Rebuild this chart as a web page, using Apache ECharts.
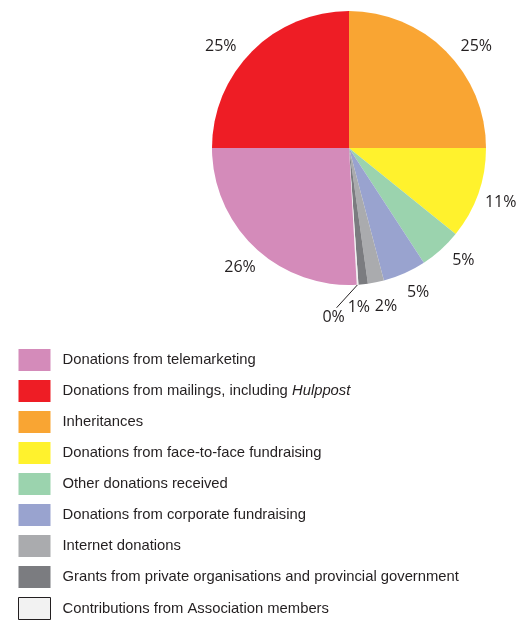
<!DOCTYPE html>
<html>
<head>
<meta charset="utf-8">
<script src="https://cdn.jsdelivr.net/npm/echarts@6/dist/echarts.min.js"></script>
<style>html,body{margin:0;padding:0;background:#fff}#c{width:518px;height:623px}</style>
</head>
<body>
<div id="c"></div>
<script>
// Data (pie order, clockwise from 12 o'clock)
const categories = [
  'Inheritances',
  'Donations from face-to-face fundraising',
  'Other donations received',
  'Donations from corporate fundraising',
  'Internet donations',
  'Grants from private organisations and provincial government',
  'Contributions from Association members',
  'Donations from telemarketing',
  'Donations from mailings, including Hulppost'
];
const values = [25.0, 10.8, 5.0, 5.1, 1.9, 1.1, 0.2, 25.9, 25.0];
// Legend order (top to bottom)
const legendOrder = [7, 8, 0, 1, 2, 3, 4, 5, 6];

// Styles
const colors = ['#f9a533', '#fff22d', '#9bd3ae', '#99a3cf', '#aaabae', '#7b7c80', '#f2f2f2', '#d48bba', '#ee1d25'];
const labelOffsets = [[12, 14], [-2, 0], [5, -8], [3, -5], [5, -1], [-7, -3], [0, 0], [3, 1], [-13, 14]];
const ZERO_IDX = 6;

const chart = echarts.init(document.getElementById('c'), null, {renderer: 'canvas'});
const center = [349, 148];
const R = 137;
const textColor = '#231f20';
const legendFont = 14.8;
const labelFont = 16;

const mainData = categories.map((n, i) => ({
  name: n,
  value: values[i],
  itemStyle: {color: colors[i]},
  label: i === ZERO_IDX ? {show: true} : {show: false},
  labelLine: i === ZERO_IDX ? {show: true} : {show: false}
}));
const ringData = categories.map((n, i) => ({
  name: n,
  value: values[i],
  itemStyle: {color: 'rgba(0,0,0,0)'},
  label: {show: i !== ZERO_IDX, offset: labelOffsets[i]}
}));

const fmt = p => Math.round(p.value) + '%';

chart.setOption({
  animation: false,
  legend: {
    orient: 'vertical',
    left: 18,
    top: 349,
    height: 280,
    padding: 0,
    itemWidth: 32,
    itemHeight: 22,
    itemGap: 9,
    icon: 'rect',
    selectedMode: false,
    data: legendOrder.map(i => ({
      name: categories[i],
      itemStyle: i === ZERO_IDX ? {color: colors[i], borderColor: textColor, borderWidth: 1} : {color: colors[i], borderWidth: 0}
    })),
    formatter: name => {
      if (name.indexOf('Hulppost') >= 0) {
        return '{n|Donations from mailings, including }{i|Hulppost}';
      }
      return '{n|' + name + '}';
    },
    textStyle: {
      color: textColor,
      fontFamily: 'Liberation Sans, Arial, sans-serif',
      fontSize: legendFont,
      padding: [0, 0, 0, 7],
      rich: {
        n: {color: textColor, fontFamily: 'Liberation Sans, Arial, sans-serif', fontSize: legendFont},
        i: {color: textColor, fontFamily: 'Liberation Sans, Arial, sans-serif', fontSize: legendFont, fontStyle: 'italic'}
      }
    }
  },
  series: [
    {
      type: 'pie',
      center: center,
      radius: [0, R],
      startAngle: 90,
      clockwise: true,
      silent: true,
      avoidLabelOverlap: false,
      emphasis: {disabled: true},
      label: {
        position: 'outside',
        formatter: fmt,
        color: textColor,
        fontFamily: 'Open Sans, Liberation Sans, sans-serif',
        fontSize: labelFont
      },
      labelLine: {length: 30, length2: 0, lineStyle: {color: textColor, width: 1}},
      labelLayout: function (params) {
        if (params.dataIndex !== ZERO_IDX) return;
        const pts = params.labelLinePoints;
        if (!pts || !pts[0]) return;
        const p0 = pts[0];
        return {
          x: p0[0] - 24,
          y: p0[1] + 33,
          align: 'center',
          verticalAlign: 'middle',
          labelLinePoints: [[p0[0], p0[1]], [p0[0] - 21, p0[1] + 23], [p0[0] - 21, p0[1] + 23]]
        };
      },
      data: mainData
    },
    {
      type: 'pie',
      center: center,
      radius: [R, R + 46],
      startAngle: 90,
      clockwise: true,
      silent: true,
      emphasis: {disabled: true},
      label: {
        position: 'inside',
        formatter: fmt,
        color: textColor,
        fontFamily: 'Open Sans, Liberation Sans, sans-serif',
        fontSize: labelFont
      },
      labelLine: {show: false},
      data: ringData
    }
  ]
});
</script>
</body>
</html>
